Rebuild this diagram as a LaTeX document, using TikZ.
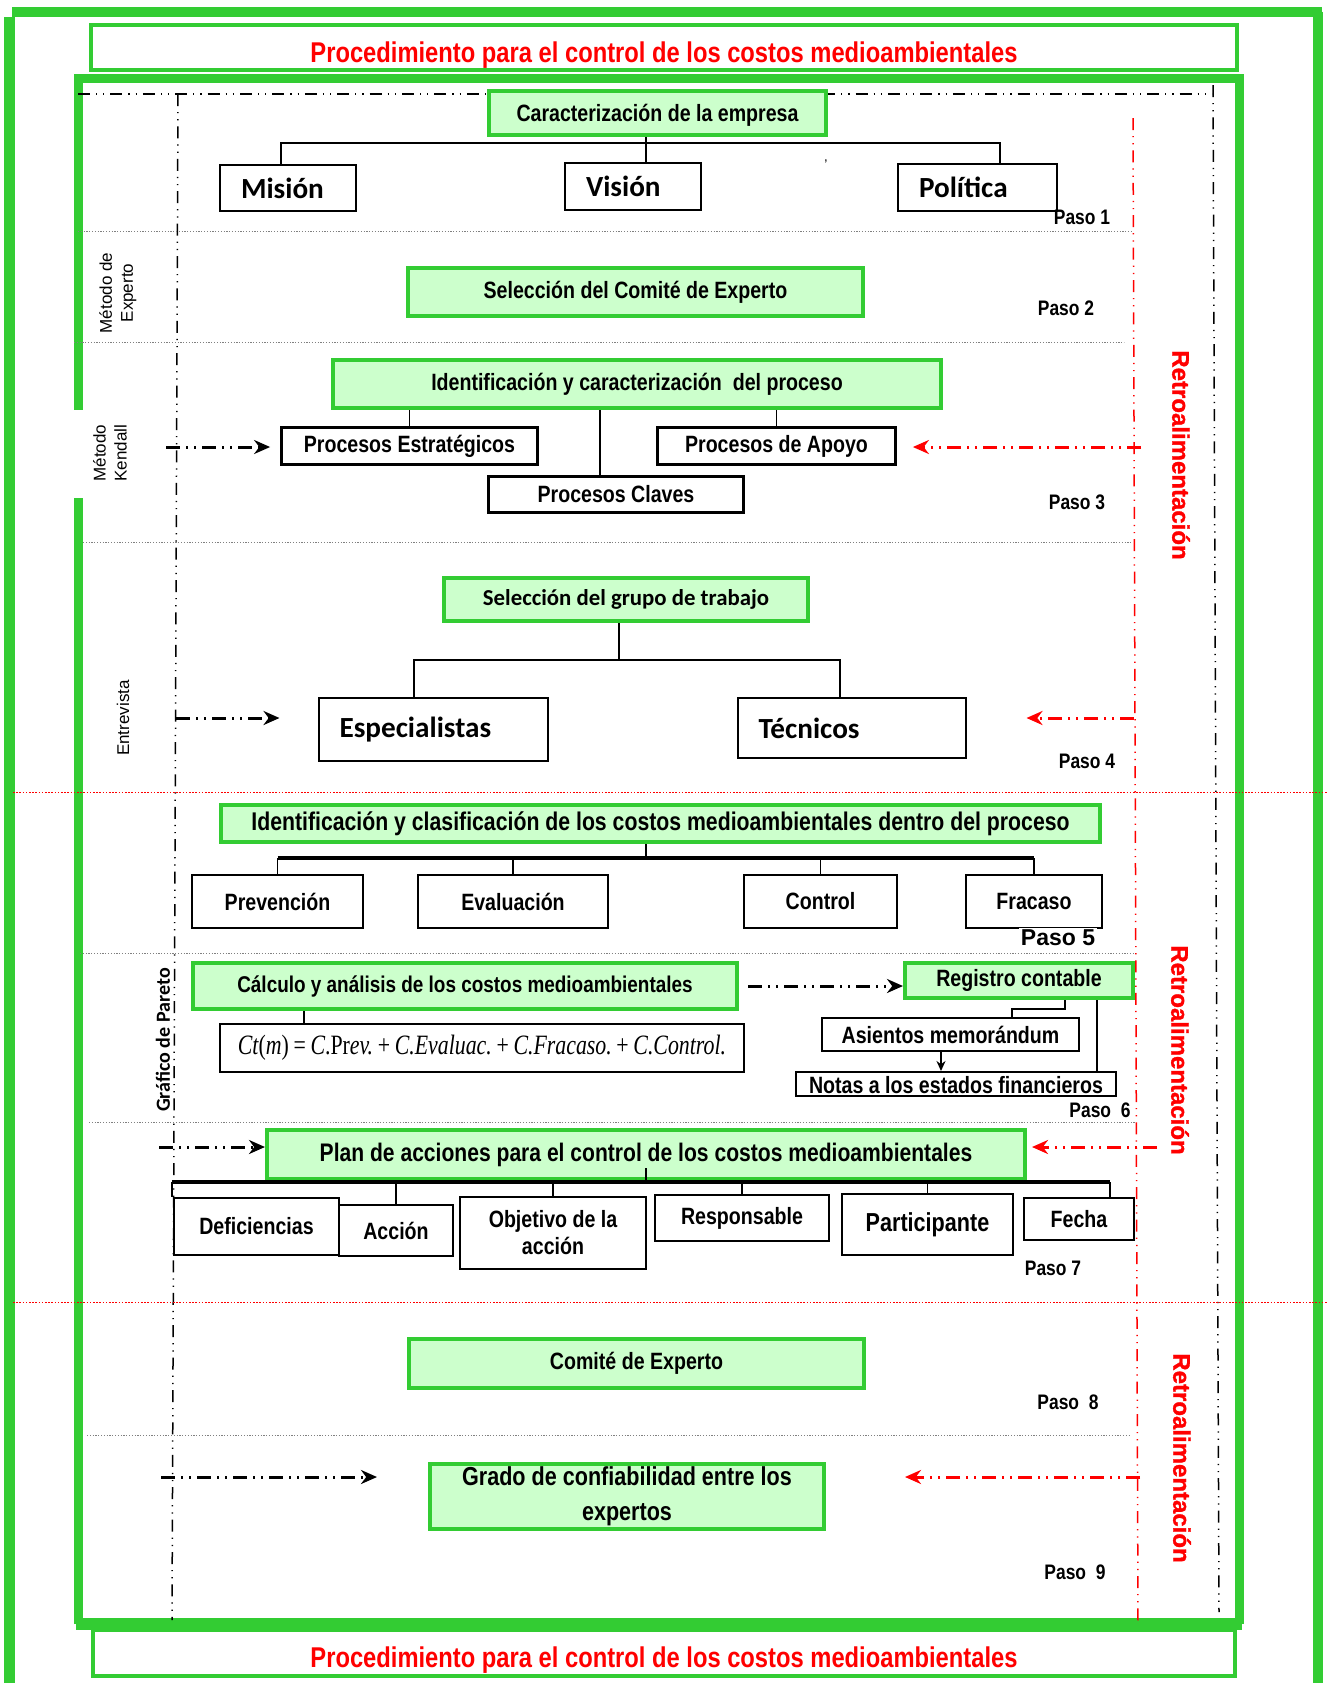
\documentclass[tikz,border=0pt]{standalone}
\usepackage{fontspec}
\usepackage{tikz}
\usetikzlibrary{arrows.meta, positioning, calc}
\setmainfont{Liberation Sans}
\newfontfamily\nar{Liberation Sans}[FakeStretch=0.83]
\newfontfamily\calfont{Carlito}
\newfontfamily\tmfont{Liberation Serif}[FakeStretch=0.78]
\newfontfamily\retrofont{Liberation Sans Bold}[FakeBold=1.2]
\definecolor{FrameGreen}{HTML}{33CC33}
\definecolor{BoxGreen}{HTML}{CCFFCC}
\definecolor{RetroRed}{HTML}{FF0000}
\newcommand{\tsz}[2]{\fontsize{#1}{#2}\selectfont}

\begin{document}
\begin{tikzpicture}[
    x=0.5pt, y=-0.5pt,
    gbox/.style={
      rectangle, draw=FrameGreen, fill=BoxGreen, line width=2pt, inner sep=0pt,
      font=\nar\bfseries\tsz{11.8}{14}
    },
    bbox/.style={rectangle, draw=black, fill=white, line width=1.4pt, inner sep=0pt,
      font=\nar\bfseries\tsz{11.8}{14}},
    cbox/.style={rectangle, draw=black, fill=white, line width=1pt, align=left,
      inner xsep=10.5pt, font=\calfont\bfseries\tsz{14.6}{17}},
    paso/.style={font=\nar\bfseries\tsz{10.5}{12}, inner sep=1pt},
    metodo/.style={font=\tsz{8.5}{10.5}, rotate=90, align=center, inner sep=0pt},
    retro/.style={font=\retrofont\tsz{12}{14}, text=RetroRed, rotate=-90},
    titletext/.style={draw=FrameGreen, line width=2pt, text=RetroRed,
      font=\nar\bfseries\tsz{14.3}{16}, text depth=0pt},
    bframe/.style={draw=black, line width=0.75pt,
      dash pattern=on 6pt off 3pt on 0.6pt off 3pt on 0.6pt off 3pt},
    rframe/.style={bframe, draw=RetroRed},
    karrow/.style={black, line width=1.5pt,
      dash pattern=on 7pt off 3pt on 1pt off 3pt on 1pt off 3pt,
      -{Stealth[length=8pt, width=7pt]}},
    rarrow/.style={karrow, RetroRed},
    sepline/.style={gray, line width=0.5pt, dash pattern=on 0.6pt off 0.8pt},
    rsep/.style={RetroRed, line width=0.5pt, dash pattern=on 0.8pt off 0.8pt},
    link/.style={black, line width=0.8pt},
    hbar/.style={black, line width=1.8pt}
  ]
    \useasboundingbox (0,0) rectangle (1328,1683);

    % frames
    \draw[FrameGreen, line width=5pt] (12,11.5) -- (1322,11.5);
    \draw[FrameGreen, line width=5.5pt] (9.5,17) -- (9.5,1700);
    \draw[FrameGreen, line width=5pt] (1317.5,11.5) -- (1317.5,1700);
    \draw[FrameGreen, line width=4.5pt] (78.5,1624) -- (78.5,78.5) -- (1239,78.5) -- (1239,1624);
    \draw[FrameGreen, line width=6pt] (76,1624) -- (1241.5,1624);
    \node[titletext, minimum width=573pt, minimum height=22.5pt, text height=14.5pt] (tit1) at (664,47.5)
      {Procedimiento para el control de los costos medioambientales};
    \node[titletext, minimum width=571pt, minimum height=23pt, text height=14pt] (tit2) at (664,1653)
      {Procedimiento para el control de los costos medioambientales};
    \fill[white] (74,410) rectangle (136,498);

    \draw[bframe] (78,94) -- (1212,94);
    \draw[bframe] (178,94) -- (172,1620);
    \draw[bframe] (1213,85) -- (1219,1612);
    \draw[rframe] (1133,118) -- (1138,1623);

    \draw[sepline] (78,231) -- (1131,231);
    \draw[sepline] (74,342) -- (1124,342);
    \draw[sepline] (83,542) -- (1131,542);
    \draw[sepline] (80,953) -- (1135,953);
    \draw[sepline] (89,1122) -- (1136,1122);
    \draw[sepline] (87,1435) -- (1131,1435);
    \draw[rsep] (13,792) -- (1328,792);
    \draw[rsep] (13,1302) -- (1328,1302);

    % Paso 1
    \node[gbox, minimum width=168.5pt, minimum height=22pt, text depth=0pt] (car) at (657.5,113) {Caracterización de la empresa};
    \node[cbox, text width=47pt, minimum height=23pt] (mis) at (288,188) {Misión};
    \node[cbox, text width=47pt, minimum height=23.5pt] (vis) at (633,186.5) {Visión};
    \node[cbox, text width=58.5pt, minimum height=23.5pt] (pol) at (977.5,187.5) {Política};
    \node[font=\tsz{7}{7}, inner sep=0pt] (tick) at (826,165) {'};
    \node[paso] (p1) at (1082,217) {Paso 1};
    \coordinate (b1) at (646,143);
    \draw[link] (b1 |- car.south) -- (b1 |- vis.north);
    \draw[link] ($(mis.north)+(-7,0)$) |- (b1) -| ($(pol.north)+(22.5,0)$);

    % Paso 2
    \node[gbox, minimum width=227.5pt, minimum height=24pt] (sel) at (635.5,292) {Selección del Comité de Experto};
    \node[paso] (p2) at (1066,308) {Paso 2};
    \node[metodo] (mexp) at (118,293) {Método de\\Experto};

    % Paso 3
    \node[gbox, minimum width=304pt, minimum height=24pt] (idp) at (637,384) {Identificación y caracterización\ \ del proceso};
    \node[bbox, minimum width=128pt, minimum height=18.5pt] (pes) at (409.5,446) {Procesos Estratégicos};
    \node[bbox, minimum width=119pt, minimum height=18.5pt] (pap) at (776.5,446) {Procesos de Apoyo};
    \node[bbox, minimum width=127.5pt, minimum height=18pt] (pcl) at (616,494.5) {Procesos Claves};
    \draw[link] (pes.north |- idp.south) -- (pes.north);
    \draw[link] (pap.north |- idp.south) -- (pap.north);
    \draw[link] ($(pcl.north |- idp.south)+(-16,0)$) -- ($(pcl.north)+(-16,0)$);
    \node[metodo] (mken) at (110,453) {Método\\Kendall};
    \coordinate (k3) at (166,447);
    \draw[karrow, shorten >=5pt] (k3) -- (k3 -| pes.west);
    \coordinate (r3) at (1141,447);
    \draw[rarrow, shorten >=8pt] (r3) -- (r3 -| pap.east);
    \node[paso] (p3) at (1077,502) {Paso 3};

    % Paso 4
    \node[gbox, font=\calfont\bfseries\tsz{11.4}{14}, minimum width=182pt, minimum height=21.5pt] (sgt) at (626,599.5) {Selección del grupo de trabajo};
    \node[cbox, text width=93.5pt, minimum height=31.5pt] (esp) at (433,729.5) {Especialistas};
    \node[cbox, text width=93pt, minimum height=30pt] (tec) at (851.5,728) {Técnicos};
    \coordinate (b4) at (619,660);
    \draw[link] (b4 |- sgt.south) -- (b4);
    \draw[link] ($(esp.north)+(-19,0)$) |- (b4) -| ($(tec.north)+(-11.5,0)$);
    \node[metodo] (ment) at (123,718) {Entrevista};
    \coordinate (k4) at (176,718);
    \draw[karrow, shorten >=19pt] (k4) -- (k4 -| esp.west);
    \coordinate (r4) at (1134,718);
    \draw[rarrow, shorten >=30pt] (r4) -- (r4 -| tec.east);
    \node[paso] (p4) at (1087,761) {Paso 4};

    % Paso 5
    \node[gbox, font=\nar\bfseries\tsz{12.8}{15}, minimum width=439.5pt, minimum height=18.5pt] (icm) at (660.5,823.5)
      {Identificación y clasificación de los costos medioambientales dentro del proceso};
    \node[bbox, minimum width=85.5pt, minimum height=26.5pt] (pre) at (277.5,901.5) {Prevención};
    \node[bbox, minimum width=95pt, minimum height=26.5pt] (eva) at (513,901.5) {Evaluación};
    \node[bbox, minimum width=76.5pt, minimum height=26.5pt] (con) at (820.5,901.5) {Control};
    \node[bbox, minimum width=68pt, minimum height=26.5pt] (fra) at (1034,901.5) {Fracaso};
    \coordinate (b5) at (646,858);
    \draw[link] (b5 |- icm.south) -- (b5);
    \draw[hbar] (pre.north |- b5) -- (fra.north |- b5);
    \draw[link] (pre.north |- b5) -- (pre.north);
    \draw[link] (eva.north |- b5) -- (eva.north);
    \draw[link] (con.north |- b5) -- (con.north);
    \draw[link] (fra.north |- b5) -- (fra.north);
    \node[paso, font=\bfseries\tsz{11.5}{13}, fill=white] (p5) at (1058,938) {Paso 5};

    % Paso 6
    \node[gbox, font=\nar\bfseries\tsz{11.4}{14}, minimum width=272pt, minimum height=23pt] (cal) at (465,986)
      {Cálculo y análisis de los costos medioambientales};
    \node[bbox, line width=1pt, font=\tmfont\tsz{14}{16}, minimum width=262pt, minimum height=24pt] (fml) at (482,1048)
      {{\itshape Ct}({\itshape m})\,=\,{\itshape C}.Pr{\itshape ev.}\,+\,{\itshape C.Evaluac.}\,+\,{\itshape C.Fracaso.}\,+\,{\itshape C.Control.}};
    \draw[link] ($(cal.south)+(-161,0)$) -- ($(cal.south |- fml.north)+(-161,0)$);
    \node[gbox, minimum width=114pt, minimum height=17.5pt] (reg) at (1019,980.5) {Registro contable};
    \node[bbox, line width=1pt, minimum width=128.5pt, minimum height=16.5pt] (ase) at (950.5,1034.5) {Asientos memorándum};
    \node[bbox, line width=1pt, minimum width=160pt, minimum height=12pt, text height=9pt, text depth=0pt] (not) at (956,1084)
      {Notas a los estados financieros};
    \draw[karrow, shorten <=4.5pt] (cal.east) -- (cal.east -| reg.west);
    \draw[link] ($(reg.south)+(46,0)$) -- ++(0,9) -| ($(ase.north)+(61.5,0)$);
    \draw[link, -{Stealth[length=5pt, width=4.5pt]}] ($(ase.south)+(-9.5,0)$) -- ($(ase.south |- not.north)+(-9.5,0)$);
    \draw[link] ($(reg.south)+(78,0)$) -- ($(reg.south |- not.north)+(78,0)$);
    \begin{scope}
      \clip (140,950) rectangle (170.5,1120);
      \node[font=\calfont\bfseries\tsz{10}{12}, rotate=90] (pareto) at (163,1040) {Gráfico de Pareto};
    \end{scope}
    \node[paso, fill=white] (p6) at (1100,1110) {Paso\ \ 6};

    % Paso 7
    \node[gbox, font=\nar\bfseries\tsz{12.7}{15}, minimum width=379pt, minimum height=24.5pt] (pla) at (646,1154.5)
      {Plan de acciones para el control de los costos medioambientales};
    \node[bbox, minimum width=82.5pt, minimum height=28.5pt] (def) at (256.5,1226.5) {Deficiencias};
    \node[bbox, minimum width=57pt, minimum height=25.5pt] (acc) at (396,1230.5) {Acción};
    \node[bbox, minimum width=93pt, minimum height=36pt, align=center, font=\nar\bfseries\tsz{11.8}{13.5}] (obj) at (553,1233)
      {Objetivo de la\\acción};
    \node[bbox, minimum width=87pt, minimum height=23pt] (res) at (742,1218) {Responsable};
    \node[bbox, font=\nar\bfseries\tsz{13}{15}, minimum width=85.5pt, minimum height=30.5pt] (par) at (927.5,1224.5) {Participante};
    \node[bbox, minimum width=55pt, minimum height=21pt] (fec) at (1079,1219) {Fecha};
    \coordinate (b7) at (646,1182);
    \coordinate (b7l) at (172,1182);
    \coordinate (b7r) at (1110,1182);
    \draw[link] ($(pla.south)+(0,-13)$) -- (b7);
    \draw[hbar] (b7l) -- (b7r);
    \draw[link] (b7l) -- (b7l |- def.north);
    \draw[link] (acc.north |- b7) -- (acc.north);
    \draw[link] (obj.north |- b7) -- (obj.north);
    \draw[link] (res.north |- b7) -- (res.north);
    \draw[link] (par.north |- b7) -- (par.north);
    \draw[link] (b7r) -- (b7r |- fec.north);
    \coordinate (k7) at (159,1147);
    \draw[karrow] (k7) -- (k7 -| pla.west);
    \coordinate (r7) at (1157,1147);
    \draw[rarrow, shorten >=2.5pt] (r7) -- (r7 -| pla.east);
    \node[paso, fill=white] (p7) at (1053,1268) {Paso 7};

    % Paso 8
    \node[gbox, minimum width=227.5pt, minimum height=24.5pt] (cex) at (636.5,1363.5) {Comité de Experto};
    \node[paso] (p8) at (1068,1402) {Paso\ \ 8};

    % Paso 9
    \node[gbox, font=\nar\bfseries\tsz{13}{17.5}, align=center, minimum width=197pt, minimum height=32.5pt] (gra) at (627,1496.5)
      {Grado de confiabilidad entre los\\expertos};
    \coordinate (k9) at (161,1477);
    \draw[karrow, shorten >=25.5pt] (k9) -- (k9 -| gra.west);
    \coordinate (r9) at (1140,1477);
    \draw[rarrow, shorten >=39.5pt] (r9) -- (r9 -| gra.east);
    \node[paso] (p9) at (1075,1572) {Paso\ \ 9};

    \node[retro] (ret1) at (1181,455) {Retroalimentación};
    \node[retro] (ret2) at (1180,1050) {Retroalimentación};
    \node[retro] (ret3) at (1182,1458) {Retroalimentación};
  \end{tikzpicture}
\end{document}
